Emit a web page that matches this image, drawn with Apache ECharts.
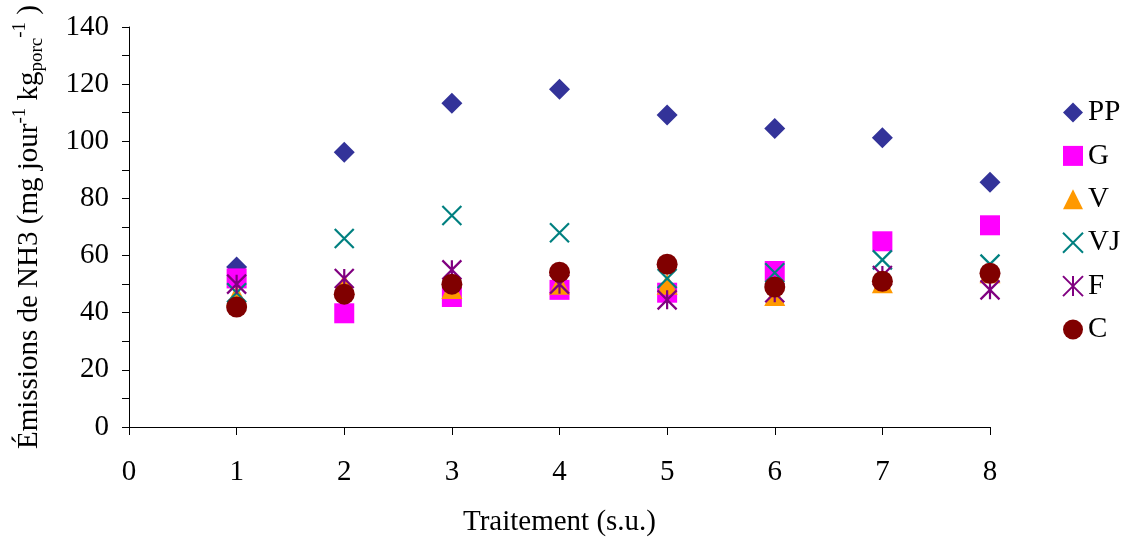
<!DOCTYPE html>
<html><head><meta charset="utf-8">
<script src="https://cdn.jsdelivr.net/npm/echarts@6/dist/echarts.min.js"></script>
<style>html,body{margin:0;padding:0;background:#fff}#c{width:1124px;height:537px}</style>
</head><body><div id="c"></div>
<script>
const xValues = [1, 2, 3, 4, 5, 6, 7, 8];
const seriesNames = ['PP', 'G', 'V', 'VJ', 'F', 'C'];
const PP = [56, 96.2, 113.3, 118.2, 109.2, 104.5, 101.2, 85.7];
const G  = [52, 39.8, 45.5, 48, 47, 54.6, 65, 70.6];
const V  = [46, 50, 48.5, 50, 50, 46, 50.5, 54];
const VJ = [47, 66, 74, 68, 52, 54, 58.5, 57];
const F  = [50, 52, 55, 50, 44.5, 47, 53, 48];
const C  = [42, 46.5, 50, 54.2, 57, 49, 51, 53.8];
const xTicks = [0, 1, 2, 3, 4, 5, 6, 7, 8];
const yTicks = [0, 20, 40, 60, 80, 100, 120, 140];

const font = 'Liberation Serif';
const fs = 29;
const pair = arr => xValues.map((x, i) => [x, arr[i]]);
const crossPath = 'path://M0 0L10 10M10 0L0 10';
const starPath = 'path://M0 0L10 10M10 0L0 10M5 0L5 10';

const chart = echarts.init(document.getElementById('c'), null, {renderer: 'canvas'});
chart.setOption({
  animation: false,
  backgroundColor: '#fff',
  grid: {left: 129, right: 134, top: 27, bottom: 110, containLabel: false, outerBoundsMode: 'none'},
  legend: {
    orient: 'vertical', left: 1057, top: 93,
    itemWidth: 20, itemHeight: 20, itemGap: 14.4,
    textStyle: {fontFamily: font, fontSize: fs, color: '#000'},
    data: seriesNames
  },
  xAxis: {
    type: 'value', min: 0, max: 8, interval: 1,
    name: 'Traitement (s.u.)', nameLocation: 'middle', nameGap: 81,
    nameTextStyle: {fontFamily: font, fontSize: fs, color: '#000'},
    axisLine: {onZero: false, lineStyle: {color: '#000', width: 1}},
    axisTick: {show: true, inside: false, length: 8, lineStyle: {color: '#000'}},
    axisLabel: {fontFamily: font, fontSize: fs, color: '#000', margin: 31,
      formatter: v => xTicks.includes(v) ? String(v) : ''},
    splitLine: {show: false}
  },
  yAxis: {
    type: 'value', min: 0, max: 140, interval: 20,
    name: '{a|Émissions de NH3 (mg jour}{sup|-1}{a| kg}{sub|porc}{sup|-1}{a| )}',
    nameLocation: 'middle', nameGap: 82, nameRotate: 90,
    nameTextStyle: {
      fontFamily: font, fontSize: fs, color: '#000',
      rich: {
        a: {fontFamily: font, fontSize: fs, color: '#000', lineHeight: 36, verticalAlign: 'middle'},
        sup: {fontFamily: font, fontSize: 19, color: '#000', lineHeight: 36, verticalAlign: 'top'},
        sub: {fontFamily: font, fontSize: 19, color: '#000', lineHeight: 36, verticalAlign: 'bottom'}
      }
    },
    axisLine: {show: true, lineStyle: {color: '#000', width: 1}},
    axisTick: {show: true, inside: false, length: 7, lineStyle: {color: '#000'}},
    minorTick: {show: true, splitNumber: 2, length: 7, lineStyle: {color: '#000'}},
    axisLabel: {fontFamily: font, fontSize: fs, color: '#000', margin: 20,
      formatter: v => yTicks.includes(v) ? String(v) : ''},
    splitLine: {show: false}
  },
  series: [
    {name: 'PP', type: 'scatter', data: pair(PP), symbol: 'diamond', symbolSize: 21,
      itemStyle: {color: '#333399', opacity: 1}},
    {name: 'G', type: 'scatter', data: pair(G), symbol: 'rect', symbolSize: 20,
      itemStyle: {color: '#FF00FF', opacity: 1}},
    {name: 'V', type: 'scatter', data: pair(V), symbol: 'triangle', symbolSize: 21,
      itemStyle: {color: '#FF9900', opacity: 1}},
    {name: 'VJ', type: 'scatter', data: pair(VJ), symbol: crossPath, symbolSize: 19,
      itemStyle: {color: 'rgba(0,0,0,0)', borderColor: '#008080', borderWidth: 2.2, opacity: 1}},
    {name: 'F', type: 'scatter', data: pair(F), symbol: starPath, symbolSize: 19,
      itemStyle: {color: 'rgba(0,0,0,0)', borderColor: '#800080', borderWidth: 2.2, opacity: 1}},
    {name: 'C', type: 'scatter', data: pair(C), symbol: 'circle', symbolSize: 21,
      itemStyle: {color: '#800000', opacity: 1}}
  ]
});
</script></body></html>
